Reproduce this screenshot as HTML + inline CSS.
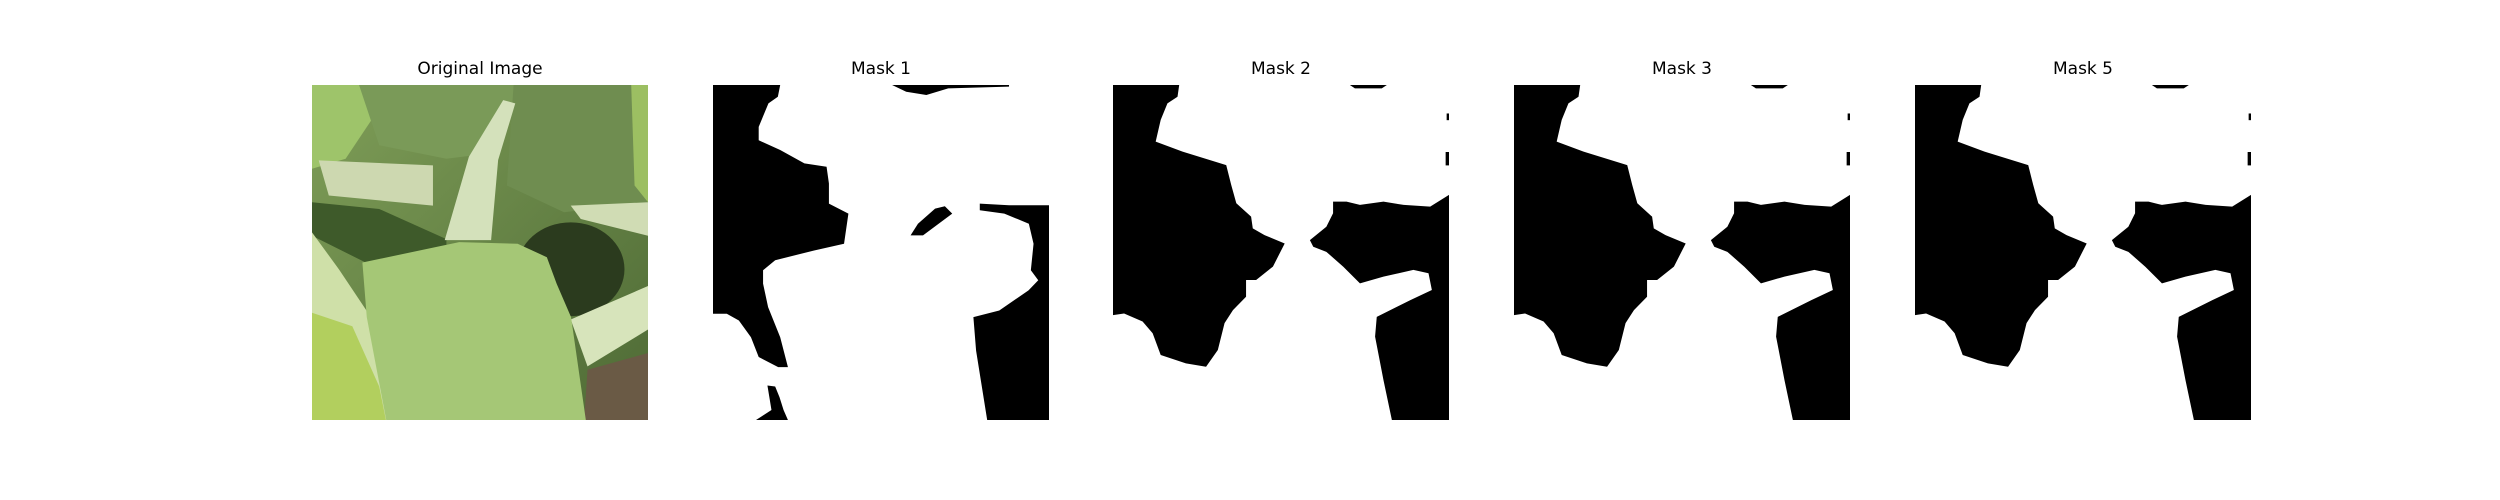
<!DOCTYPE html>
<html><head><meta charset="utf-8"><style>
html,body{margin:0;padding:0;background:#fff;}
#fig{position:relative;width:2500px;height:500px;background:#fff;overflow:hidden;font-family:"DejaVu Sans","Liberation Sans",sans-serif;}
.ttl{position:absolute;width:336px;text-align:center;font-size:17px;top:59px;color:#000;}
svg.p{position:absolute;top:85px;width:336px;height:335px;}
</style></head><body>
<div id="fig">
<div class="ttl" style="left:312px">Original Image</div>
<div class="ttl" style="left:713px">Mask 1</div>
<div class="ttl" style="left:1113px">Mask 2</div>
<div class="ttl" style="left:1514px">Mask 3</div>
<div class="ttl" style="left:1915px">Mask 5</div>

<svg class="p" style="left:312px" viewBox="0 0 100 100" preserveAspectRatio="none">
<defs><linearGradient id="bg" x1="0" y1="0" x2="1" y2="1"><stop offset="0" stop-color="#7f9e58"/><stop offset="1" stop-color="#4e6a35"/></linearGradient></defs>
<rect width="100" height="100" fill="url(#bg)"/>
<polygon points="0,0 20,0 18,10 10,22 0,25" fill="#9ec46a"/>
<polygon points="14,0 62,0 56,20 40,22 20,18" fill="#7a9a58"/>
<polygon points="60,0 100,0 100,35 75,38 58,30" fill="#6f8d50"/>
<polygon points="95,0 100,0 100,35 96,30" fill="#9cbf62"/>
<polygon points="0,35 20,37 40,46 40,60 20,55 0,45" fill="#3e5a2a"/>
<ellipse cx="77" cy="55" rx="16" ry="14" fill="#2b3b1e"/>
<polygon points="2,22.5 36,24 36,36 5,33" fill="#cdd8b0"/>
<polygon points="56.9,4.5 60.5,5.5 55.4,22.4 53.3,46.3 39.5,46.3 46.7,21.4" fill="#d4e1bb"/>
<polygon points="77,36 100,35 100,45 80,40" fill="#d0dcb4"/>
<polygon points="77,70 100,60 100,73 82,84" fill="#d7e4bb"/>
<polygon points="82,85 100,80 100,100 81,100" fill="#6a5a45"/>
<polygon points="0,44 8,55 18,70 25,100 15,100 0,75" fill="#cfe0a8"/>
<polygon points="15,53 43.8,46.9 61.2,47.4 69.9,51.4 72.8,59.3 77.1,69.3 81.5,100 22.1,100 16.3,69.3" fill="#a5c776"/>
<polygon points="0,68 12,72 20,90 22,100 0,100" fill="#b2cf5e"/>
</svg>

<svg class="p" style="left:713px" viewBox="0 0 100 100" preserveAspectRatio="none">
<rect width="100" height="100" fill="#fff"/>
<polygon fill="#000" points="0,0 20,0 19.3,3.5 16.5,5.5 13.6,12.5 13.6,16.5 20,19.4 27.2,23.4 33.8,24.4 34.5,29.4 34.5,35.4 40.3,38.4 39,47.4 30.1,49.4 18.5,52.3 14.9,55.3 14.9,59.3 16.4,66.3 20,75.3 22.3,84.2 19.4,84.2 13.6,81.2 11.3,75.3 7.7,70.3 4.1,68.3 0,68.3"/>
<polygon fill="#000" points="16.2,89.7 18.5,90 19.8,93.2 21,97 22.3,100 12.8,100 17.4,97"/>
<polygon fill="#000" points="53.3,0 88.1,0 88.1,0.5 70,1 63.5,3 57.5,2"/>
<polygon fill="#000" points="58.8,44.9 62.5,44.9 71.2,38.4 69,36.2 66.1,36.9 61,41.4"/>
<polygon fill="#000" points="79.4,35.4 79.4,37.4 86.7,38.4 94,41.4 95.4,47.4 94.6,55.3 96.8,58.3 93.9,61.3 85.2,67.3 77.5,69.3 78.3,79.3 81.6,100 100,100 100,35.9 88.1,35.9"/>
</svg>

<svg class="p" style="left:1113px" viewBox="0 0 100 100" preserveAspectRatio="none"><use href="#m2"/></svg>
<svg class="p" style="left:1514px" viewBox="0 0 100 100" preserveAspectRatio="none"><use href="#m2"/></svg>
<svg class="p" style="left:1915px" viewBox="0 0 100 100" preserveAspectRatio="none"><use href="#m2"/></svg>

<svg width="0" height="0" style="position:absolute"><defs><g id="m2">
<rect width="100" height="100" fill="#fff"/>
<polygon fill="#000" points="0,0 19.7,0 19.2,3.5 16.2,5.5 14.2,10.4 12.7,16.9 20.7,19.9 33.7,23.9 35.2,29.9 36.7,35.3 41.1,39.3 41.6,42.8 45.1,44.8 51.1,47.3 47.6,54.2 42.6,58.2 39.6,58.2 39.6,63.2 35.7,67.2 33.2,71.1 31.2,79.1 27.7,84.1 21.7,83.1 14.2,80.6 11.8,74.1 8.8,70.6 3.3,68.2 0,68.7"/>
<polygon fill="#000" points="65.5,34.8 65.5,38.3 63.5,42.3 58.6,46.3 59.6,48.3 63.5,49.8 68.5,54.2 73.5,59.2 80.5,57.2 89.4,55.2 93.9,56.2 94.9,61.2 88.5,64.2 78.5,69.2 78,75.1 80.5,88.1 83,100 100,100 100,32.8 94.4,36.3 86.5,35.8 80.5,34.8 73.5,35.8 69.5,34.8"/>
<polygon fill="#000" points="70.5,0 81.5,0 80,1 72,1"/>
<rect x="99.3" y="8.5" width="0.7" height="2" fill="#000"/>
<rect x="99" y="20" width="1" height="4" fill="#000"/>
</g></defs></svg>
</div>
</body></html>
